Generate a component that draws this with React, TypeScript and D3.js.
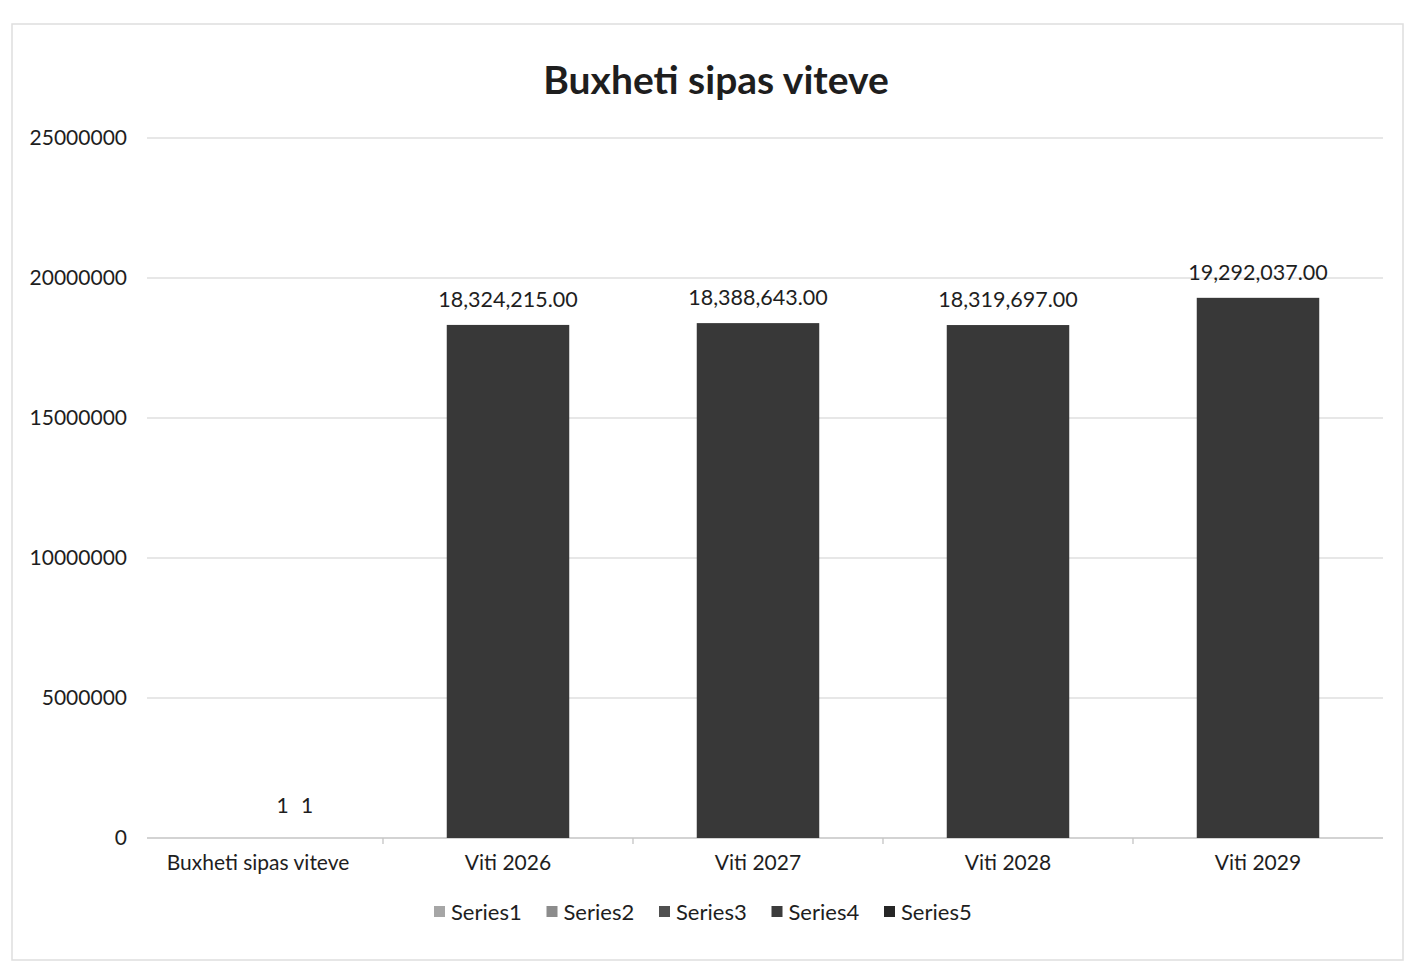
import { useMemo } from 'react'
import * as d3 from 'd3'

const categories = ['Buxheti sipas viteve', 'Viti 2026', 'Viti 2027', 'Viti 2028', 'Viti 2029']
const seriesNames = ['Series1', 'Series2', 'Series3', 'Series4', 'Series5']
const seriesColors = ['#a6a6a6', '#8c8c8c', '#505050', '#3c3c3c', '#262626']
// budget per year (the big bars)
const budget = [null, 18324215, 18388643, 18319697, 19292037]
// the first category only holds two tiny values
const firstGroup = [null, null, null, 1, 1]
const yTicks = [0, 5000000, 10000000, 15000000, 20000000, 25000000]

const W = 1411
const H = 966
const margin = { top: 138, right: 28, bottom: 128, left: 133 }
const font = 'Lato, "Open Sans", sans-serif'

const App = () => {
  const x = useMemo(
    () =>
      d3
        .scaleBand()
        .domain(categories)
        .range([margin.left, W - margin.right])
        .paddingInner(0)
        .paddingOuter(0),
    []
  )
  const y = useMemo(
    () =>
      d3
        .scaleLinear()
        .domain([0, 25000000])
        .range([H - margin.bottom, margin.top]),
    []
  )
  const groupW = x.bandwidth() * 0.49
  const xs = d3.scaleBand().domain(seriesNames).range([0, groupW])
  const fmt = d3.format(',.2f')
  const barColor = '#383838'

  return (
    <div style={{ position: 'absolute', left: 0, top: 0 }}>
      <svg width={W} height={H} style={{ display: 'block', background: '#fff' }}>
        <rect x={12} y={24} width={W - 20} height={H - 30} fill="none" stroke="#dedede" strokeWidth={1.5} />
        <text x={716} y={94} textAnchor="middle" fontFamily={font} fontWeight={700} fontSize={39} fill="#1e1e1e">
          Buxheti sipas viteve
        </text>

        {yTicks.map((t) => (
          <g key={t}>
            {t > 0 && (
              <line x1={margin.left + 14} x2={W - margin.right} y1={y(t)} y2={y(t)} stroke="#d0d0d0" strokeWidth={1.2} />
            )}
            <text x={127} y={y(t) + 7} textAnchor="end" fontFamily={font} fontSize={21} fill="#1e1e1e">
              {t}
            </text>
          </g>
        ))}

        <line x1={margin.left + 14} x2={W - margin.right} y1={y(0)} y2={y(0)} stroke="#c4c4c4" strokeWidth={1.3} />
        {categories.slice(1).map((c) => (
          <line key={c} x1={x(c)} x2={x(c)} y1={y(0)} y2={y(0) + 6} stroke="#c4c4c4" strokeWidth={1.3} />
        ))}

        {categories.map((c, i) => {
          const v = budget[i]
          const cx = (x(c) as number) + x.bandwidth() / 2
          return (
            <g key={c}>
              {v != null && (
                <>
                  <rect x={cx - groupW / 2} y={y(v)} width={groupW} height={y(0) - y(v)} fill={barColor} />
                  <text x={cx} y={y(v) - 18} textAnchor="middle" fontFamily={font} fontSize={21.5} fill="#1e1e1e">
                    {fmt(v)}
                  </text>
                </>
              )}
              <text x={cx} y={y(0) + 32} textAnchor="middle" fontFamily={font} fontSize={21} fill="#1e1e1e">
                {c}
              </text>
            </g>
          )
        })}

        {firstGroup.map((v, i) =>
          v == null ? null : (
            <text
              key={i}
              x={(x(categories[0]) as number) + x.bandwidth() / 2 - groupW / 2 + (xs(seriesNames[i]) as number) + xs.bandwidth() / 2}
              y={y(v) - 25}
              textAnchor="middle"
              fontFamily={font}
              fontSize={21}
              fill="#1e1e1e"
            >
              {v}
            </text>
          )
        )}

        <g transform="translate(434, 920)">
          {seriesNames.map((s, i) => (
            <g key={s} transform={`translate(${i * 112.5}, 0)`}>
              <rect x={0} y={-14} width={11} height={11} fill={seriesColors[i]} />
              <text x={17} y={0} fontFamily={font} fontSize={22} fill="#1e1e1e">
                {s}
              </text>
            </g>
          ))}
        </g>
      </svg>
    </div>
  )
}

export default App
